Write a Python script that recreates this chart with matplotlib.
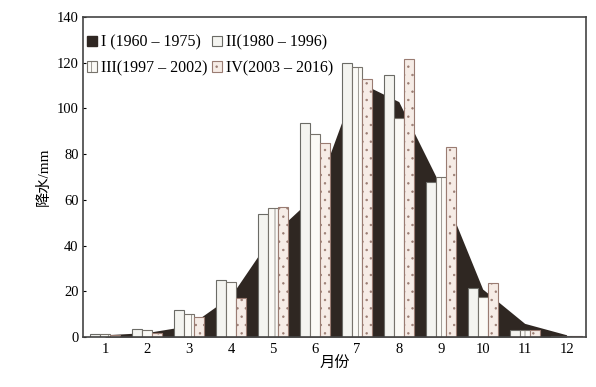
import matplotlib.pyplot as plt
from matplotlib.patches import Patch

plt.rcParams['font.family'] = ['Liberation Serif', 'Noto Sans CJK SC']
plt.rcParams['hatch.linewidth'] = 0.5

months = list(range(1, 13))
month_labels = [str(m) for m in months]

# period I drawn as a dark area behind the bars
rain_1960_1975 = [1.0, 2.0, 5.0, 18.0, 45.0, 62.0, 112.0, 103.0, 66.0, 21.0, 6.0, 1.0]
rain_1980_1996 = [1.5, 3.5, 12.0, 25.0, 54.0, 93.5, 120.0, 114.5, 68.0, 21.5, 3.0, 0.5]
rain_1997_2002 = [1.2, 3.3, 10.0, 24.0, 56.5, 89.0, 118.0, 96.0, 70.0, 17.5, 3.0, 0.4]
rain_2003_2016 = [1.0, 2.0, 9.0, 17.0, 57.0, 85.0, 113.0, 121.5, 83.0, 23.5, 3.0, 0.3]

labels = ['I (1960 \u2013 1975)', 'II(1980 \u2013 1996)', 'III(1997 \u2013 2002)', 'IV(2003 \u2013 2016)']
y_ticks = [0, 20, 40, 60, 80, 100, 120, 140]

fig = plt.figure(figsize=(5.96, 3.87), dpi=100)
ax = fig.add_axes([0.139, 0.129, 0.844, 0.827])

dark = '#2f2722'
ax.fill_between(months, rain_1960_1975, 0, color=dark, zorder=1, linewidth=0)

w = 0.24
b2 = ax.bar([m - w for m in months], rain_1980_1996, width=w, color='#f4f4f0',
            edgecolor='#6b6b66', linewidth=0.8, zorder=2)
b3 = ax.bar(months, rain_1997_2002, width=w, color='#fbfaf6', edgecolor='#77736c',
            linewidth=0.8, hatch='|', zorder=2)
b4 = ax.bar([m + w for m in months], rain_2003_2016, width=w, color='#f6ece6',
            edgecolor='#9a7c72', linewidth=0.8, hatch='..', zorder=2)

ax.set_xlim(0.47, 12.46)
ax.set_ylim(0, 140)
ax.set_xticks(months)
ax.set_xticklabels(month_labels)
ax.set_yticks(y_ticks)
ax.tick_params(axis='x', length=0, labelsize=10.5, pad=4)
ax.tick_params(axis='y', direction='in', length=2.5, labelsize=10.5, pad=3)
for s in ax.spines.values():
    s.set_linewidth(1.2)
    s.set_color('#444444')

ax.set_xlabel('月份', fontsize=11, labelpad=1)
ax.set_ylabel('降水/mm', fontsize=11, labelpad=4)

# legend fills column by column, so order gives rows I,II / III,IV
handles = [Patch(facecolor=dark, edgecolor=dark), b3, b2, b4]
order = [labels[0], labels[2], labels[1], labels[3]]
ax.legend(handles, order, loc='upper left', ncol=2, frameon=False, fontsize=11.5,
          handlelength=0.6, handleheight=0.6, handletextpad=0.25, columnspacing=0.3,
          labelspacing=0.6, borderaxespad=0.2, bbox_to_anchor=(-0.01, 0.975))

fig.savefig('out.png', dpi=100)
